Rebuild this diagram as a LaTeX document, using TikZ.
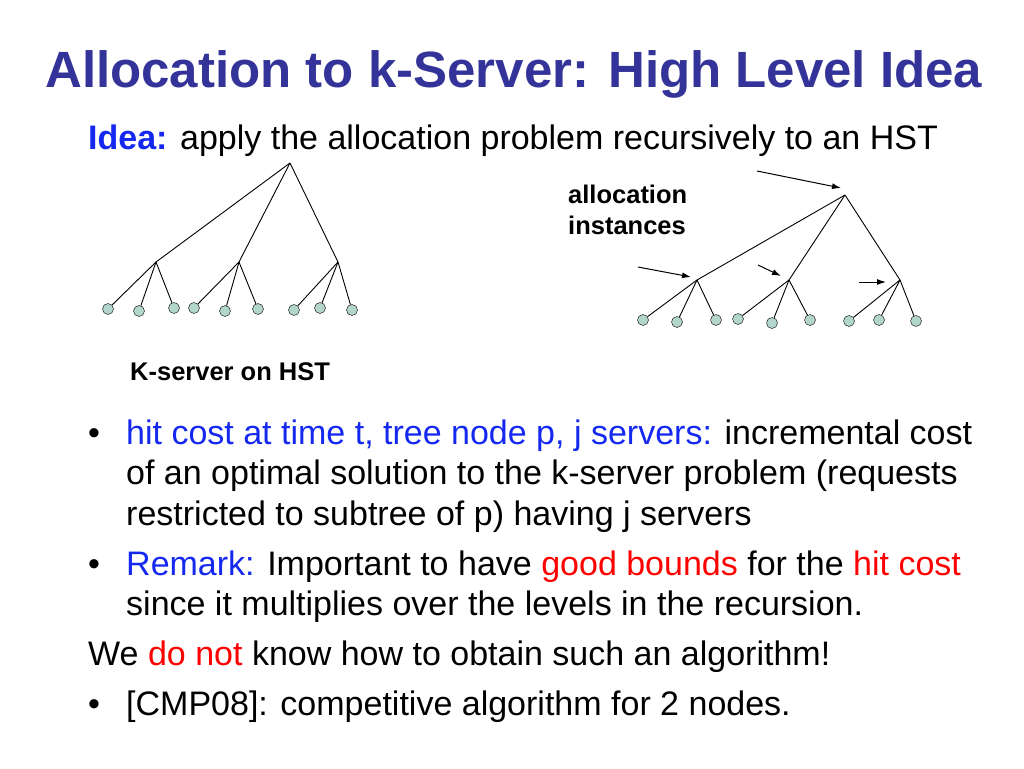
\documentclass[tikz,border=0pt]{standalone}
\usepackage{fontspec}
\setmainfont{Liberation Sans}
\usetikzlibrary{arrows.meta}
\definecolor{titleblue}{RGB}{51,51,153}
\definecolor{hiblue}{RGB}{20,40,240}
\definecolor{leaffill}{RGB}{178,214,204}
\tikzset{
  leaf/.style={circle, draw, fill=leaffill, inner sep=0pt, minimum width=10pt, minimum height=11pt},
  line/.style={draw, line width=0.9pt},
  txt/.style={anchor=base west, inner sep=0pt, font=\fontsize{34}{40}\selectfont},
  lbl/.style={anchor=base west, inner sep=0pt, font=\fontsize{25.5}{30}\selectfont\bfseries},
  pointer/.style={-{Latex[length=9pt,width=6pt]}, line width=1pt}
}
\begin{document}
\begin{tikzpicture}[x=1pt,y=-1pt]
  \useasboundingbox (0,0) rectangle (1024,768);
  % Title
  \node[txt, font=\fontsize{51}{55}\selectfont\bfseries, text=titleblue] (title) at (45,87) {Allocation to k-Server: High Level Idea};
  \node[txt] (idea) at (88,149) {\textcolor{hiblue}{\bfseries Idea:} apply the allocation problem recursively to an HST};

  % Left tree: k-server on HST
  \coordinate (L) at (290,163);
  \foreach \m/\x in {1/156,2/239,3/338} \coordinate (L\m) at (\x,262);
  \foreach \i/\x/\y/\m in {1/108/309/1,2/139/311/1,3/174/308/1,4/194/308/2,5/225/311/2,6/258/309/2,7/294/310/3,8/320/308/3,9/352/310/3}{
    \node[leaf] (l\i) at (\x,\y) {};
    \draw[line] (L\m) -- (l\i);
  }
  \foreach \m in {1,2,3} \draw[line] (L) -- (L\m);
  \node[lbl] (kserver) at (130,380) {K-server on HST};

  % Right tree: allocation instances
  \coordinate (R) at (845,195);
  \foreach \m/\x in {1/697,2/789,3/900} \coordinate (R\m) at (\x,280);
  \foreach \i/\x/\y/\m in {1/643/320/1,2/677/322/1,3/716/320/1,4/738/319/2,5/772/323/2,6/810/320/2,7/849/321/3,8/879/320/3,9/916/321/3}{
    \node[leaf] (r\i) at (\x,\y) {};
    \draw[line] (R\m) -- (r\i);
  }
  \foreach \m in {1,2,3} \draw[line] (R) -- (R\m);
  \node[lbl] (alloc) at (568,203) {allocation};
  \node[lbl] (inst) at (568,234) {instances};

  % Pointers to the instances
  \coordinate (p0) at (757,171); \coordinate (q0) at (841,188);
  \coordinate (p1) at (638,267); \coordinate (q1) at (691,277);
  \coordinate (p2) at (758,265); \coordinate (q2) at (781,276);
  \coordinate (p3) at (859,282); \coordinate (q3) at (886,282);
  \foreach \k in {0,...,3} \draw[pointer] (p\k) -- (q\k);

  % Bullets
  \node[txt] (b1) at (88,444) {•};
  \node[txt] (t1) at (126,444) {\textcolor{hiblue}{hit cost at time t, tree node p, j servers:} incremental cost};
  \node[txt] (t1b) at (126,484) {of an optimal solution to the k-server problem (requests};
  \node[txt] (t1c) at (126,525) {restricted to subtree of p) having j servers};
  \node[txt] (b2) at (88,575) {•};
  \node[txt] (t2) at (126,575) {\textcolor{hiblue}{Remark:} Important to have \textcolor{red}{good bounds} for the \textcolor{red}{hit cost}};
  \node[txt] (t2b) at (126,615) {since it multiplies over the levels in the recursion.};
  \node[txt] (t3) at (88,665) {We \textcolor{red}{do not} know how to obtain such an algorithm!};
  \node[txt] (b4) at (88,715) {•};
  \node[txt] (t4) at (126,715) {[CMP08]: competitive algorithm for 2 nodes.};
\end{tikzpicture}
\end{document}
